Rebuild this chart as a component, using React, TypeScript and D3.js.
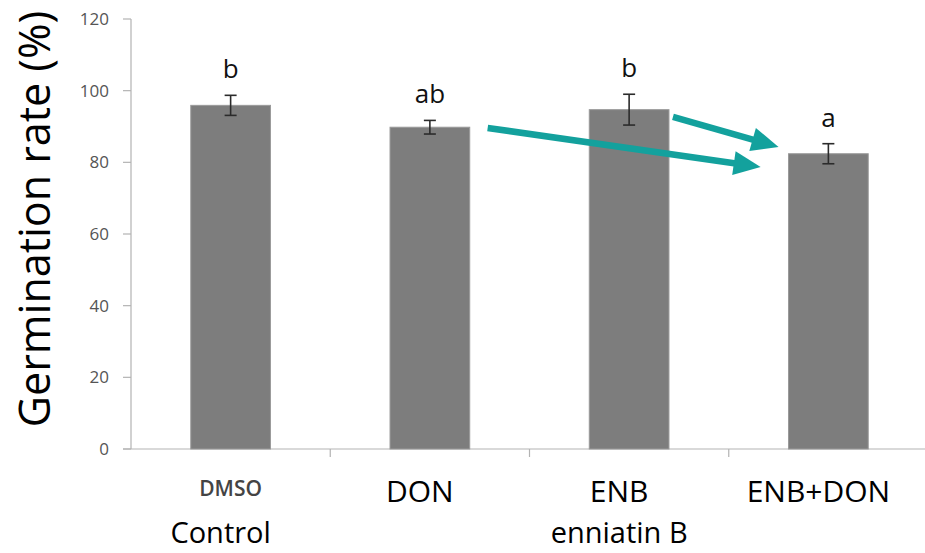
import React, { useRef, useEffect } from 'react';
import * as d3 from 'd3';

const categories = ['DMSO', 'DON', 'ENB', 'ENB+DON'];
const means = [95.9, 89.8, 94.7, 82.4];
const errors = [2.8, 1.9, 4.3, 2.8];
const letters = ['b', 'ab', 'b', 'a'];
const subLabels = ['Control', '', 'enniatin B', ''];
const yTicks = [0, 20, 40, 60, 80, 100, 120];

// arrows given in data terms: category + offset (fraction of band) + value
const arrows = [
  { from: 'DON', fromDx: 0.29, fromV: 89.6, to: 'ENB+DON', toDx: -0.34, toV: 78.7 },
  { from: 'ENB', fromDx: 0.22, fromV: 92.7, to: 'ENB+DON', toDx: -0.25, toV: 84.3 },
];

export default function App() {
  const svgRef = useRef<SVGSVGElement>(null);
  const width = 925;
  const height = 553;

  useEffect(() => {
    const svg = d3.select(svgRef.current);
    svg.selectAll('*').remove();

    const font = '"Open Sans", sans-serif';

    const x = d3.scaleBand().domain(categories).range([131, 928]).padding(0);
    const y = d3.scaleLinear().domain([0, 120]).range([449, 19]);
    const cx = (c: string) => (x(c) as number) + x.bandwidth() / 2;
    const barW = x.bandwidth() * 0.4;

    // y axis
    svg.append('line')
      .attr('x1', 131).attr('x2', 131)
      .attr('y1', y(120)).attr('y2', y(0))
      .attr('stroke', '#b3b3b3').attr('stroke-width', 1.2);
    svg.append('g')
      .selectAll('line')
      .data(yTicks)
      .join('line')
      .attr('x1', 123).attr('x2', 131)
      .attr('y1', d => y(d)).attr('y2', d => y(d))
      .attr('stroke', '#b3b3b3').attr('stroke-width', 1.2);
    svg.append('g')
      .selectAll('text')
      .data(yTicks)
      .join('text')
      .attr('x', 109)
      .attr('y', d => y(d))
      .attr('dy', '0.35em')
      .attr('text-anchor', 'end')
      .attr('fill', '#555')
      .attr('font-size', 17)
      .attr('font-family', font)
      .text(d => d);

    // x axis
    svg.append('line')
      .attr('x1', 123).attr('x2', width)
      .attr('y1', y(0)).attr('y2', y(0))
      .attr('stroke', '#b3b3b3').attr('stroke-width', 1.2);
    svg.append('g')
      .selectAll('line')
      .data(categories.slice(1))
      .join('line')
      .attr('x1', d => x(d) as number).attr('x2', d => x(d) as number)
      .attr('y1', y(0)).attr('y2', y(0) + 8)
      .attr('stroke', '#b3b3b3').attr('stroke-width', 1.2);

    // bars
    svg.append('g')
      .selectAll('rect')
      .data(categories)
      .join('rect')
      .attr('x', d => cx(d) - barW / 2)
      .attr('y', (d, i) => y(means[i]))
      .attr('width', barW)
      .attr('height', (d, i) => y(0) - y(means[i]))
      .attr('fill', '#7d7d7d')
      .attr('stroke', '#9a9a9a')
      .attr('stroke-width', 1);

    // error bars
    const eb = svg.append('g').attr('stroke', '#2b2b2b').attr('stroke-width', 1.6);
    categories.forEach((c, i) => {
      const top = y(means[i] + errors[i]);
      const bot = y(means[i] - errors[i]);
      eb.append('line').attr('x1', cx(c)).attr('x2', cx(c)).attr('y1', top).attr('y2', bot);
      eb.append('line').attr('x1', cx(c) - 6).attr('x2', cx(c) + 6).attr('y1', top).attr('y2', top);
      eb.append('line').attr('x1', cx(c) - 6).attr('x2', cx(c) + 6).attr('y1', bot).attr('y2', bot);
    });

    // significance letters
    svg.append('g')
      .selectAll('text')
      .data(categories)
      .join('text')
      .attr('x', d => cx(d))
      .attr('y', (d, i) => y(means[i] + errors[i]) - 17)
      .attr('text-anchor', 'middle')
      .attr('fill', '#111')
      .attr('font-size', 26)
      .attr('font-family', font)
      .text((d, i) => letters[i]);

    // category labels
    svg.append('text')
      .attr('x', cx('DMSO'))
      .attr('y', 496)
      .attr('text-anchor', 'middle')
      .attr('fill', '#444')
      .attr('font-size', 21)
      .attr('font-weight', 600)
      .attr('font-family', font)
      .text('DMSO');
    svg.append('g')
      .selectAll('text')
      .data(categories.slice(1))
      .join('text')
      .attr('x', d => cx(d) - 10)
      .attr('y', 502)
      .attr('text-anchor', 'middle')
      .attr('fill', '#000')
      .attr('font-size', 30)
      .attr('font-family', font)
      .text(d => d);
    svg.append('g')
      .selectAll('text')
      .data(categories)
      .join('text')
      .attr('x', d => cx(d) - 10)
      .attr('y', 543)
      .attr('text-anchor', 'middle')
      .attr('fill', '#000')
      .attr('font-size', 29)
      .attr('font-family', font)
      .text((d, i) => subLabels[i]);

    // y title
    svg.append('text')
      .attr('transform', `translate(50,${(y(0) + y(120)) / 2 - 15}) rotate(-90)`)
      .attr('text-anchor', 'middle')
      .attr('fill', '#000')
      .attr('font-size', 43)
      .attr('font-family', font)
      .text('Germination rate (%)');

    // teal arrows
    const teal = '#13a19d';
    arrows.forEach(a => {
      const x1 = cx(a.from) + a.fromDx * x.bandwidth();
      const y1 = y(a.fromV);
      const x2 = cx(a.to) + a.toDx * x.bandwidth();
      const y2 = y(a.toV);
      const ang = Math.atan2(y2 - y1, x2 - x1);
      const headL = 27;
      const headW = 12;
      const bx = x2 - headL * Math.cos(ang);
      const by = y2 - headL * Math.sin(ang);
      svg.append('line')
        .attr('x1', x1).attr('y1', y1)
        .attr('x2', bx + 2 * Math.cos(ang)).attr('y2', by + 2 * Math.sin(ang))
        .attr('stroke', teal).attr('stroke-width', 6.5);
      const nx = -Math.sin(ang);
      const ny = Math.cos(ang);
      svg.append('path')
        .attr('d', `M${x2},${y2}L${bx + headW * nx},${by + headW * ny}L${bx - headW * nx},${by - headW * ny}Z`)
        .attr('fill', teal);
    });
  }, []);

  return (
    <svg
      ref={svgRef}
      width={width}
      height={height}
      style={{ position: 'absolute', left: 0, top: 0, background: '#fff' }}
    />
  );
}
